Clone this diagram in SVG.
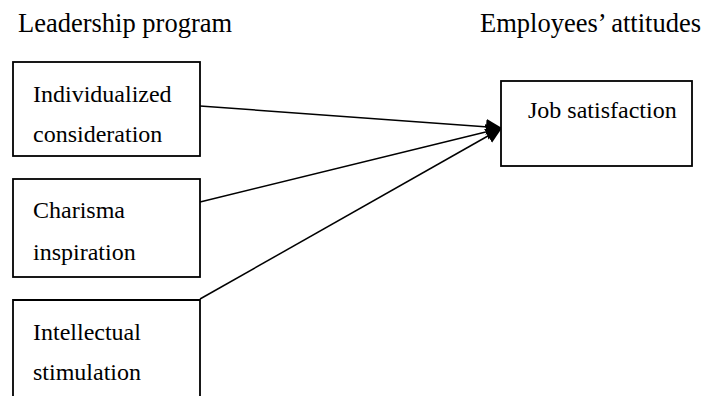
<svg xmlns="http://www.w3.org/2000/svg" width="704" height="396" viewBox="0 0 704 396">
<style>
text{font-family:"Liberation Serif","Times New Roman",serif;font-size:24px;fill:#000}
.hdr{font-size:26.5px}
.box{fill:#fff;stroke:#000;stroke-width:1.8}
.conn{stroke:#000;stroke-width:1.5;fill:none}
</style>
<defs>
<marker id="ahb" viewBox="0 0 16 16" refX="16" refY="8" markerWidth="16" markerHeight="16" markerUnits="userSpaceOnUse" orient="auto">
<path d="M0,0 L16,8 L0,16 z" fill="#000"/>
</marker>
</defs>
<text class="hdr" x="18" y="32">Leadership program</text>
<text class="hdr" x="480" y="32">Employees’ attitudes</text>
<g id="connectors">
<line class="conn" x1="200" y1="106" x2="502" y2="128" marker-end="url(#ahb)"/>
<line class="conn" x1="200" y1="202" x2="502" y2="128" marker-end="url(#ahb)"/>
<line class="conn" x1="200" y1="299" x2="502" y2="128" marker-end="url(#ahb)"/>
</g>
<g id="individualized">
<rect class="box" x="13" y="62" width="187" height="94"/>
<text x="33" y="102">Individualized</text>
<text x="33" y="142">consideration</text>
</g>
<g id="charisma">
<rect class="box" x="13" y="179" width="187" height="98"/>
<text x="33" y="218">Charisma</text>
<text x="33" y="260">inspiration</text>
</g>
<g id="intellectual">
<path class="box" d="M13,396 L13,300 L200,300 L200,396"/>
<text x="33" y="340">Intellectual</text>
<text x="33" y="380">stimulation</text>
</g>
<g id="job">
<rect class="box" x="501" y="81" width="191" height="85"/>
<text x="528" y="118">Job satisfaction</text>
</g>
</svg>
